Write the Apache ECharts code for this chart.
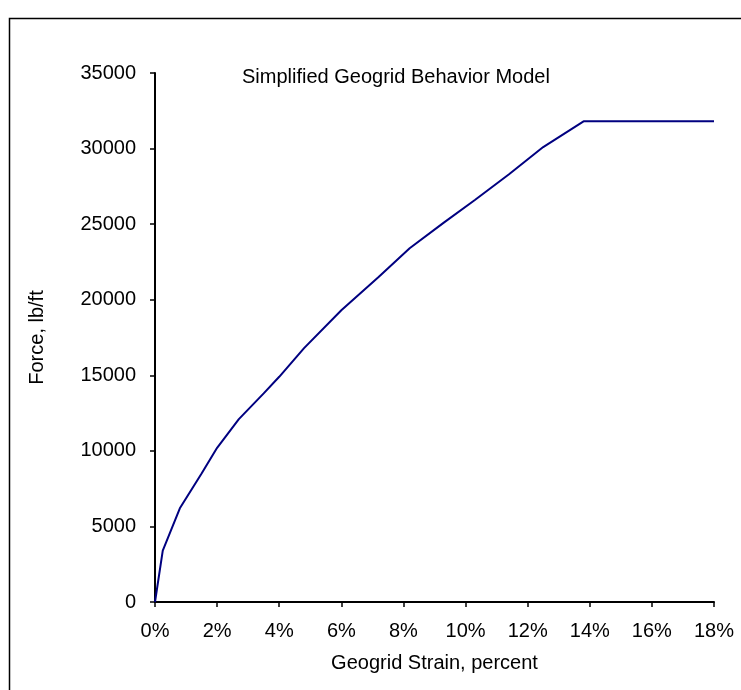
<!DOCTYPE html>
<html>
<head>
<meta charset="utf-8">
<script src="https://cdn.jsdelivr.net/npm/echarts@6/dist/echarts.min.js"></script>
<style>html,body{margin:0;padding:0;background:#fff}#c{width:741px;height:690px}</style>
</head>
<body>
<div id="c"></div>
<script>
// Geogrid strain (percent) and force (lb/ft)
var strainPct = [0, 0.25, 0.8, 1.5, 2.0, 2.7, 3.5, 4.0, 4.8, 6.0, 7.2, 8.2, 9.3, 10.3, 11.4, 12.5, 13.8, 18.0];
var forceLbFt = [0, 3400, 6200, 8500, 10200, 12100, 13800, 14900, 16800, 19300, 21500, 23400, 25100, 26600, 28300, 30100, 31800, 31800];
var titleText = 'Simplified Geogrid Behavior Model';
var xAxisName = 'Geogrid Strain, percent';
var yAxisName = 'Force, lb/ft';

var data = strainPct.map(function (s, i) { return [s, forceLbFt[i]]; });
var font = 'Liberation Sans, Arial, sans-serif';
var fs = 20;
var chart = echarts.init(document.getElementById('c'));
chart.setOption({
  animation: false,
  backgroundColor: '#fff',
  title: {
    text: titleText, left: 237, top: 62,
    textStyle: { fontFamily: font, fontSize: fs, fontWeight: 'normal', color: '#000' }
  },
  graphic: [{
    type: 'rect', left: 7, top: 16, z: -1,
    shape: { width: 760, height: 700 },
    style: { fill: 'none', stroke: '#000', lineWidth: 1.5 }
  }],
  grid: { left: 155, right: 27, top: 73, bottom: 88, containLabel: false },
  xAxis: {
    type: 'value', min: 0, max: 18, interval: 2,
    name: xAxisName, nameLocation: 'middle', nameGap: 51,
    nameTextStyle: { fontFamily: font, fontSize: fs, color: '#000' },
    axisLine: { show: true, onZero: false, lineStyle: { color: '#000', width: 2 } },
    axisTick: { show: true, inside: false, length: 5, lineStyle: { color: '#000', width: 1.5 } },
    axisLabel: { formatter: '{value}%', fontFamily: font, fontSize: fs, color: '#000', margin: 19 },
    splitLine: { show: false }
  },
  yAxis: {
    type: 'value', min: 0, max: 35000, interval: 5000,
    name: yAxisName, nameLocation: 'middle', nameGap: 108, nameRotate: 90,
    nameTextStyle: { fontFamily: font, fontSize: fs, color: '#000' },
    axisLine: { show: true, lineStyle: { color: '#000', width: 2 } },
    axisTick: { show: true, inside: false, length: 5, lineStyle: { color: '#000', width: 1.5 } },
    axisLabel: { formatter: function (v) { return String(v); }, fontFamily: font, fontSize: fs, color: '#000', margin: 19 },
    splitLine: { show: false }
  },
  series: [{
    type: 'line', data: data, showSymbol: false, smooth: false,
    lineStyle: { color: '#000080', width: 2 }
  }]
});
</script>
</body>
</html>
